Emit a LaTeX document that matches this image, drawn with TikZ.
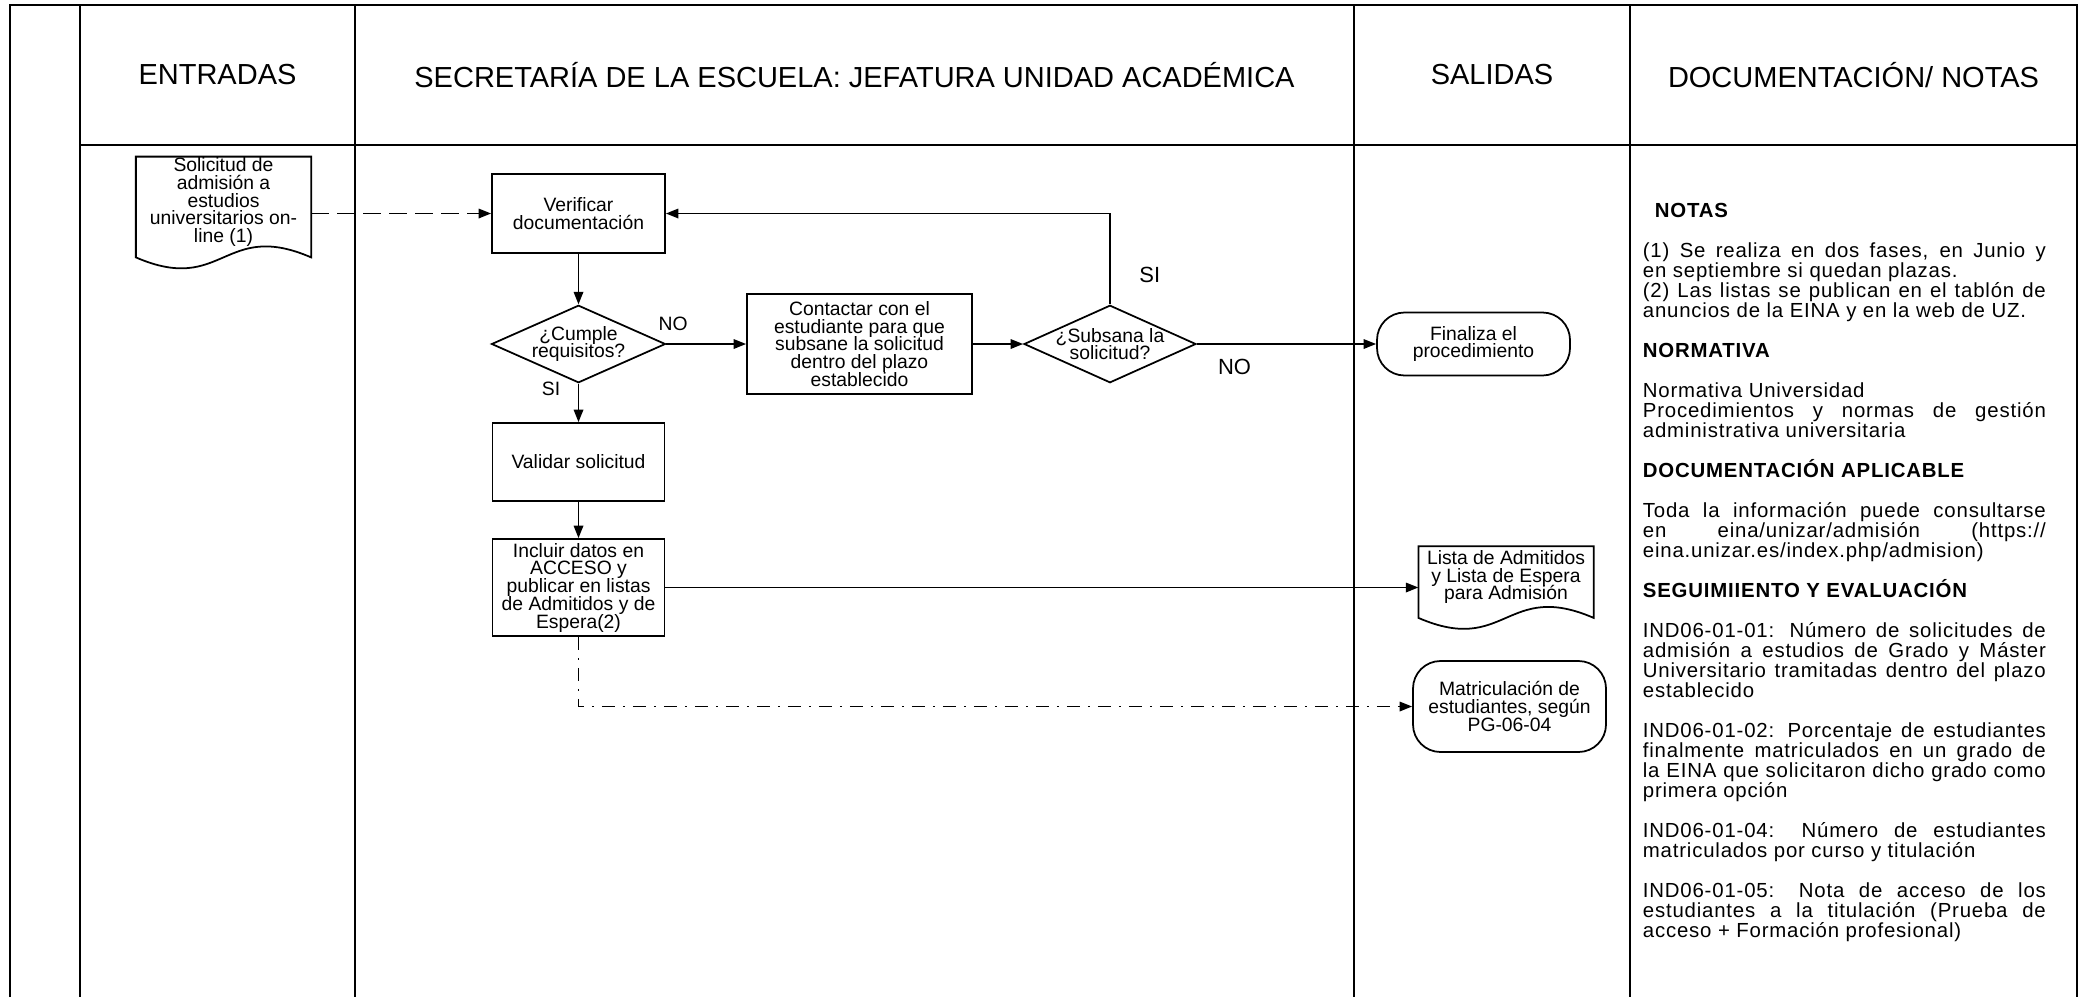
\documentclass[tikz,border=0pt]{standalone}
\usepackage{fontspec}
\setmainfont{Liberation Sans}
\newfontfamily\notesfam[LetterSpace=4.0]{Liberation Sans}
\usetikzlibrary{arrows.meta, positioning, shapes.geometric, calc}

\newcommand{\flowfont}{\fontsize{11}{10.1}\selectfont\lineskiplimit=-100pt}
\newcommand{\notesfont}{\notesfam\fontsize{11.6}{11.38}\selectfont\lineskiplimit=-100pt}
\newcommand{\jl}[1]{\makebox[8.06cm][s]{\spaceskip=0pt\xspaceskip=0pt #1}}
% outline of a document symbol round a node
\newcommand{\docoutline}[1]{%
  \draw[shapeline] (#1.north west) -- (#1.north east) -- ([yshift=-0.2cm]#1.south east)
    .. controls ([yshift=0.56cm]#1.south) and ([yshift=-0.96cm]#1.south) .. ([yshift=-0.2cm]#1.south west) -- cycle;}

\tikzset{
  every picture/.style={line width=1pt},
  laneline/.style={draw=black, line width=1.4pt},
  shapeline/.style={draw=black, line width=1pt},
  proc/.style={draw, rectangle, align=center, inner sep=0pt, font=\flowfont},
  decision/.style={draw, diamond, aspect=2.25, align=center, inner sep=0pt, minimum width=3.44cm, minimum height=1.55cm, font=\flowfont},
  terminal/.style={draw, rectangle, rounded corners=0.55cm, align=center, inner sep=0pt, minimum width=3.86cm, font=\flowfont},
  docnode/.style={rectangle, align=center, inner sep=0pt, minimum width=3.47cm, font=\flowfont},
  headtext/.style={font=\fontsize{16.5}{19}\selectfont},
  lbl/.style={font=\flowfont, inner sep=0pt},
  lblbig/.style={font=\fontsize{12.5}{14}\selectfont, inner sep=0pt},
  notes/.style={font=\notesfont, text width=8.06cm, align=left, inner sep=0pt},
  arrow/.style={-{Triangle[length=0.25cm, width=0.19cm]}},
  dasharrow/.style={arrow, dash pattern=on 0.36cm off 0.16cm},
  dotarrow/.style={arrow, dash pattern=on 0.26cm off 0.16cm on 0.04cm off 0.16cm},
}

\begin{document}
\begin{tikzpicture}
  \useasboundingbox (0,0) rectangle (41.74,-19.94);
  % swimlanes
  \draw[laneline] (0.2,-19.94) -- (0.2,-0.1) -- (41.54,-0.1) -- (41.54,-19.94);
  \draw[laneline] (1.6,-2.9) -- (41.54,-2.9);
  \foreach \x in {1.6,7.1,27.08,32.6}
    \draw[laneline] (\x,-0.1) -- (\x,-19.94);

  \node[headtext] (hent) at (4.35,-1.5) {ENTRADAS};
  \node[headtext] (hsec) at (17.09,-1.5) {SECRETARÍA DE LA ESCUELA: JEFATURA UNIDAD ACADÉMICA};
  \node[headtext] (hsal) at (29.84,-1.5) {SALIDAS};
  \node[headtext] (hdoc) at (37.07,-1.5) {DOCUMENTACIÓN/ NOTAS};

  % flow
  \node[docnode, minimum height=1.72cm] (sol) at (4.47,-4.04) {Solicitud de\\admisión a\\estudios\\universitarios on-\\line (1)};
  \node[proc, minimum width=3.46cm, minimum height=1.58cm] (ver) at (11.57,-4.27) {Verificar\\documentación};
  \node[decision] (cum) at (11.57,-6.88) {¿Cumple\\requisitos?};
  \node[proc, minimum width=4.5cm, minimum height=2cm] (con) at (17.19,-6.88) {Contactar con el\\estudiante para que\\subsane la solicitud\\dentro del plazo\\establecido};
  \node[decision, inner xsep=-0.16cm] (sub) at (22.2,-6.88) {¿Subsana la\\solicitud?};
  \node[terminal, minimum height=1.26cm] (fin) at (29.47,-6.88) {Finaliza el\\procedimiento};
  \node[proc, minimum width=3.44cm, minimum height=1.56cm] (val) at (11.57,-9.24) {Validar solicitud};
  \node[proc, minimum width=3.44cm, minimum height=1.94cm] (inc) at (11.57,-11.75) {Incluir datos en\\ACCESO y\\publicar en listas\\de Admitidos y de\\Espera(2)};
  \node[docnode, minimum height=1.2cm] (lis) at (30.12,-11.54) {Lista de Admitidos\\y Lista de Espera\\para Admisión};
  \node[terminal, minimum height=1.82cm] (mat) at (30.19,-14.13) {Matriculación de\\estudiantes, según\\PG-06-04};
  \docoutline{sol}
  \docoutline{lis}

  \draw[dasharrow] (ver.west -| sol.east) -- (ver.west);
  \draw[arrow] (ver) -- (cum);
  \draw[arrow] (cum) -- node[lbl, pos=0.085, above=0.24cm] (no1) {NO} (con);
  \draw[arrow] (con) -- (sub);
  \draw[arrow] (sub) |- node[lblbig, pos=0.16, right=0.57cm] (si2) {SI} (ver);
  \draw[arrow] (sub) -- node[lblbig, pos=0.21, below=0.28cm] (no2) {NO} (fin);
  \draw[arrow] (cum) -- node[lbl, pos=0.14, left=0.35cm] (si1) {SI} (val);
  \draw[arrow] (val) -- (inc);
  \draw[arrow] (inc.east) -- (inc.east -| lis.west);
  \draw[dotarrow] (inc.south) |- (mat.west);

  % notes
  \node[notes, anchor=north west] (notas) at (32.84,-4.05) {%
\spaceskip=0pt\xspaceskip=0pt
\hspace*{0.24cm}\textbf{NOTAS}\\[0.4cm]
\jl{(1)  Se realiza en dos fases, en Junio y}\\
en septiembre si quedan plazas.\\
\jl{(2) Las listas se publican en el tablón de}\\
anuncios de la EINA y en la web de UZ.\\[0.4cm]
\textbf{NORMATIVA}\\[0.4cm]
Normativa Universidad\\
\jl{Procedimientos y normas de gestión}\\
administrativa universitaria\\[0.4cm]
\textbf{DOCUMENTACIÓN APLICABLE}\\[0.4cm]
\jl{Toda la información puede consultarse}\\
\jl{en eina/unizar/admisión (https://}\\
eina.unizar.es/index.php/admision)\\[0.4cm]
\textbf{SEGUIMIIENTO Y EVALUACIÓN}\\[0.4cm]
\jl{IND06-01-01: Número de solicitudes de}\\
\jl{admisión a estudios de Grado y Máster}\\
\jl{Universitario tramitadas dentro del plazo}\\
establecido\\[0.4cm]
\jl{IND06-01-02: Porcentaje de estudiantes}\\
\jl{finalmente matriculados en un grado de}\\
\jl{la EINA que solicitaron dicho grado como}\\
primera opción\\[0.4cm]
\jl{IND06-01-04: Número de estudiantes}\\
matriculados por curso y titulación\\[0.4cm]
\jl{IND06-01-05: Nota de acceso de los}\\
\jl{estudiantes a la titulación (Prueba de}\\
acceso + Formación profesional)};
\end{tikzpicture}
\end{document}
